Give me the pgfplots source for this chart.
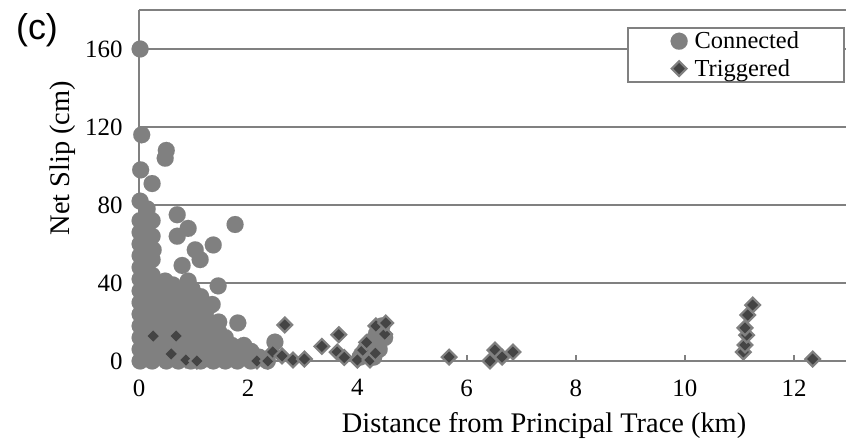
\documentclass[border=0pt]{standalone}
\usepackage{fontspec}
\setmainfont{Liberation Serif}
\newfontfamily\sansf{Liberation Sans}
\usepackage{pgfplots}
\pgfplotsset{compat=1.18}
\definecolor{cgray}{HTML}{808080}
\definecolor{tdark}{HTML}{444444}
\begin{document}
\begin{tikzpicture}
\begin{axis}[
  at={(0,0)}, anchor=south west,
  scale only axis, width=707bp, height=351bp,
  xmin=0, xmax=12.95, ymin=0, ymax=180,
  axis x line*=bottom, axis y line*=left,
  axis line style={cgray, line width=2.5bp},
  xtick={0,2,...,12}, ytick={0,40,...,160},
  extra y ticks={180}, extra y tick labels={},
  extra y tick style={ymajorgrids=true, major tick length=0pt},
  ymajorgrids, grid style={cgray, line width=2.5bp},
  xtick style={cgray, line width=2bp}, ytick style={draw=none},
  tick align=inside, major tick length=6bp,
  ticklabel style={font=\fontsize{25}{29}\selectfont},
  /pgf/number format/assume math mode=true,
  xticklabel style={yshift=-15bp}, yticklabel style={xshift=-13bp},
  clip=false,
  xlabel={Distance from Principal Trace (km)}, ylabel={Net Slip (cm)},
  label style={font=\fontsize{28.5}{33}\selectfont},
  xlabel style={at={(axis description cs:0.573,-0.2023)}, anchor=base},
  ylabel style={at={(axis description cs:-0.0976,0.578)}, anchor=base},
  legend style={at={(axis description cs:0.9986,0.9516)}, anchor=north east,
    draw=cgray, line width=2bp, fill=white, font=\fontsize{24.5}{28}\selectfont,
    inner xsep=43bp, inner ysep=2bp, row sep=5bp},
  legend cell align=left,
]
\addplot[only marks, mark=*, mark size=8.5bp, mark options={fill=cgray, draw=cgray, line width=0.1pt}] coordinates {
(0.02,0) (0.02,6) (0.02,12) (0.02,18) (0.02,24) (0.02,30) (0.02,36) (0.02,42) (0.02,48) (0.02,54) (0.02,60) (0.02,66) (0.02,72) (0.02,82) (0.03,98) (0.05,116) (0.02,160)
(0.12,3) (0.12,9) (0.12,15) (0.12,21) (0.12,27) (0.12,33) (0.12,39) (0.12,45) (0.12,51) (0.12,57) (0.12,63) (0.12,69) (0.15,78)
(0.24,0) (0.24,6) (0.24,12) (0.24,18) (0.24,24) (0.24,30) (0.24,36) (0.24,44) (0.24,52) (0.26,57) (0.24,64) (0.24,72) (0.24,91)
(0.38,3) (0.38,9) (0.38,15) (0.38,21) (0.38,27) (0.38,33) (0.38,39)
(0.5,0) (0.5,6) (0.5,12) (0.5,18) (0.5,24) (0.5,30) (0.5,36) (0.48,41) (0.48,104) (0.5,108)
(0.62,3) (0.62,9) (0.62,15) (0.62,21) (0.62,27) (0.62,33) (0.62,39)
(0.72,0) (0.72,6) (0.72,12) (0.72,18) (0.72,24) (0.72,30) (0.72,36) (0.7,64) (0.7,75)
(0.82,3) (0.82,9) (0.82,15) (0.82,21) (0.82,27) (0.82,33) (0.79,49)
(0.9,68) (0.9,41)
(0.95,0) (0.95,6) (0.95,12) (0.95,18) (0.95,24) (0.95,30) (0.97,37)
(1.05,3) (1.05,9) (1.05,15) (1.05,21) (1.05,27) (1.03,57)
(1.13,0) (1.13,6) (1.13,12) (1.13,18) (1.13,33) (1.12,52)
(1.25,3) (1.25,9) (1.25,15) (1.25,21) (1.25,27)
(1.36,0) (1.36,6) (1.36,12) (1.34,29) (1.36,59.5)
(1.46,3) (1.46,9) (1.46,15) (1.46,20) (1.45,38.5)
(1.58,0) (1.58,6) (1.58,12)
(1.7,3) (1.7,8)
(1.8,0) (1.8,5) (1.81,19.5) (1.76,70)
(1.92,2) (1.92,8)
(2.05,0) (2.05,5)
(2.2,2) (2.35,0) (2.49,9.7)
(4.05,2) (4.15,6) (4.25,10) (4.35,14) (4.45,18) (4.4,6) (4.5,12) (4.3,2)
};
\addlegendentry{\hspace{5bp}Connected}
\addplot[only marks, mark=square*, mark size=5.2bp, mark options={rotate=45, fill=tdark, draw=cgray, line width=2.2bp}] coordinates {
(0.26,12.8) (0.68,12.8) (0.59,3.6) (0.86,0.5) (1.06,0)
(2.16,0) (2.36,0) (2.45,4.6) (2.62,2.6) (2.67,18.5) (2.82,0.5) (3.03,1) (3.35,7.5) (3.66,13.5) (3.63,4.6) (3.76,1.8)
(4.0,0.5) (4.1,5.6) (4.17,9.5) (4.23,0.5) (4.33,4) (4.34,18) (4.5,13.8) (4.52,19.5)
(5.68,2) (6.43,0) (6.52,5.6) (6.65,2) (6.85,4.6)
(11.07,4.6) (11.1,8.2) (11.13,13.3) (11.1,17) (11.15,23.6) (11.24,28.7) (12.34,1)
};
\addlegendentry{\hspace{5bp}Triggered}
\end{axis}
\node[font=\sansf\fontsize{36}{40}\selectfont] at (-102bp,331bp) {(c)};
\pgfresetboundingbox
\path[use as bounding box] (-139bp,-78bp) rectangle (707bp,361bp);
\end{tikzpicture}
\end{document}
